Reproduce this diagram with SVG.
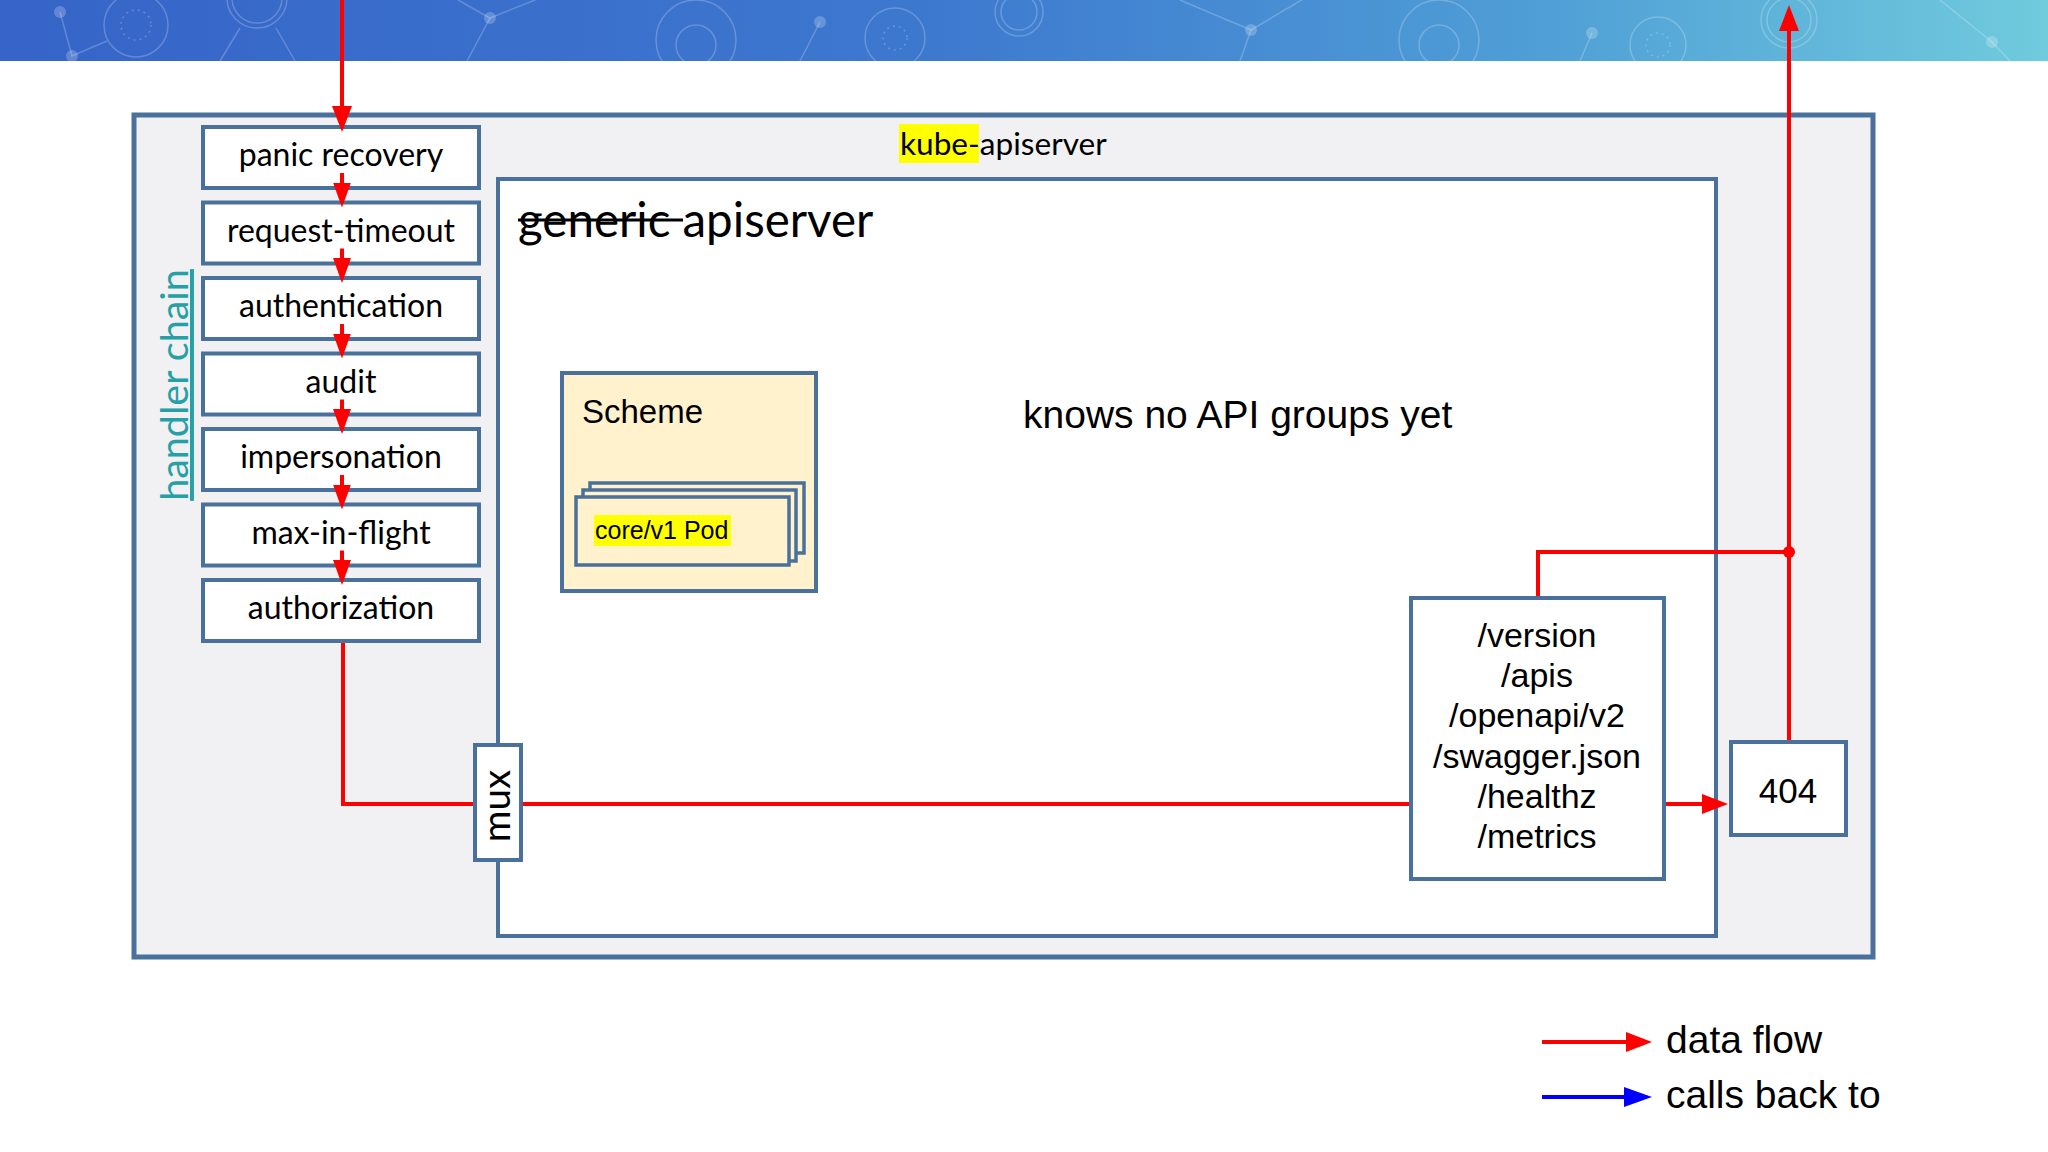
<svg xmlns="http://www.w3.org/2000/svg" width="2048" height="1152" viewBox="0 0 2048 1152">
  <defs>
    <linearGradient id="bannerGrad" x1="0" y1="0" x2="1" y2="0">
      <stop offset="0" stop-color="#3664c8"/>
      <stop offset="0.45" stop-color="#3d78cf"/>
      <stop offset="0.75" stop-color="#4f9ed6"/>
      <stop offset="1" stop-color="#70cbdd"/>
    </linearGradient>
    <marker id="redHead" viewBox="0 0 26 20" refX="21" refY="10" markerWidth="26" markerHeight="20" markerUnits="userSpaceOnUse" orient="auto">
      <path d="M0,0 L26,10 L0,20 z" fill="#ff0000"/>
    </marker>
    <marker id="chainHead" viewBox="0 0 25 18" refX="20" refY="9" markerWidth="25" markerHeight="18" markerUnits="userSpaceOnUse" orient="auto">
      <path d="M0,0 L25,9 L0,18 z" fill="#ff0000"/>
    </marker>
    <marker id="blueHead" viewBox="0 0 28 20" refX="23" refY="10" markerWidth="28" markerHeight="20" markerUnits="userSpaceOnUse" orient="auto">
      <path d="M0,0 L28,10 L0,20 z" fill="#0000ff"/>
    </marker>
  </defs>
  <style>
    .box { fill: #ffffff; stroke: #4a709c; stroke-width: 4; }
    .outer { fill: #f1f1f3; stroke: #4a709c; stroke-width: 5; }
    .scheme { fill: #fff2cc; stroke: #4a709c; stroke-width: 4; }
    .card { fill: #fff2cc; stroke: #4a709c; stroke-width: 3.5; }
    .flow { fill: none; stroke: #ff0000; stroke-width: 4; }
    .cal { font-family: Lato, "Liberation Sans", sans-serif; fill: #000000; }
    .ari { font-family: "Liberation Sans", Arial, sans-serif; fill: #000000; }
    .hl { font-size: 32px; text-anchor: middle; }
    .route { font-size: 34px; text-anchor: middle; }
    .deco { fill: none; stroke: #ffffff; stroke-opacity: 0.22; stroke-width: 1.5; }
    .decodot { fill: #ffffff; fill-opacity: 0.22; }
  </style>

  <rect width="2048" height="1152" fill="#ffffff"/>

  <!-- banner -->
  <g id="banner">
    <rect x="0" y="0" width="2048" height="61" fill="url(#bannerGrad)"/>
    <circle class="decodot" cx="60" cy="12" r="6"/>
    <circle class="decodot" cx="72" cy="56" r="6"/>
    <polyline class="deco" points="60,12 72,56 107,41"/>
    <circle class="deco" cx="136" cy="25" r="32"/>
    <circle class="deco" cx="136" cy="25" r="15" stroke-dasharray="2 4"/>
    <circle class="deco" cx="257" cy="-2" r="30"/>
    <circle class="deco" cx="257" cy="-2" r="25"/>
    <polyline class="deco" points="240,28 220,61"/>
    <polyline class="deco" points="276,28 295,61"/>
    <circle class="decodot" cx="490" cy="18" r="6"/>
    <polyline class="deco" points="458,0 490,18 467,61"/>
    <polyline class="deco" points="490,18 560,-10"/>
    <circle class="deco" cx="696" cy="40" r="40"/>
    <circle class="deco" cx="696" cy="45" r="20"/>
    <circle class="decodot" cx="820" cy="22" r="6"/>
    <polyline class="deco" points="820,22 800,61"/>
    <circle class="deco" cx="895" cy="38" r="30"/>
    <circle class="deco" cx="895" cy="38" r="12" stroke-dasharray="2 4"/>
    <circle class="deco" cx="1019" cy="12" r="24"/>
    <circle class="deco" cx="1019" cy="12" r="18"/>
    <circle class="decodot" cx="1251" cy="30" r="6"/>
    <polyline class="deco" points="1180,0 1251,30 1240,61"/>
    <polyline class="deco" points="1251,30 1310,-5"/>
    <circle class="deco" cx="1439" cy="40" r="40"/>
    <circle class="deco" cx="1439" cy="45" r="20"/>
    <circle class="decodot" cx="1592" cy="33" r="6"/>
    <polyline class="deco" points="1592,33 1580,61"/>
    <circle class="deco" cx="1658" cy="45" r="28"/>
    <circle class="deco" cx="1658" cy="45" r="12" stroke-dasharray="2 4"/>
    <circle class="deco" cx="1789" cy="20" r="28"/>
    <circle class="deco" cx="1789" cy="20" r="22"/>
    <circle class="decodot" cx="1992" cy="42" r="6"/>
    <polyline class="deco" points="1940,0 1992,42 2010,61"/>
  </g>

  <!-- containers -->
  <g id="kube-apiserver">
    <rect class="outer" x="134" y="115" width="1739" height="842"/>
    <rect x="899" y="124" width="80" height="39" fill="#ffff00"/>
    <text class="cal" x="900" y="155" font-size="31.6">kube-apiserver</text>
  </g>

  <g id="handler-chain-label">
    <text class="cal" transform="translate(188,385) rotate(-90)" font-size="39.5" text-anchor="middle" style="fill:#25a0a6" text-decoration="underline">handler chain</text>
  </g>

  <g id="generic-apiserver">
    <rect class="box" x="498" y="179" width="1218" height="757"/>
    <text class="cal" x="518" y="237" font-size="47.5">generic apiserver</text>
    <line x1="518" y1="220" x2="683" y2="220" stroke="#000000" stroke-width="3"/>
  </g>

  <g id="knows-note">
    <text class="ari" x="1023" y="428" font-size="39">knows no API groups yet</text>
  </g>

  <g id="scheme">
    <rect class="scheme" x="562" y="373" width="254" height="218"/>
    <text class="ari" x="582" y="423" font-size="33">Scheme</text>
    <rect class="card" x="590" y="483" width="214" height="70"/>
    <rect class="card" x="583" y="490" width="213" height="71"/>
    <rect class="card" x="576" y="497" width="213" height="68"/>
    <rect x="594" y="515" width="137" height="31" fill="#ffff00"/>
    <text class="ari" x="595" y="539" font-size="25">core/v1 Pod</text>
  </g>

  <!-- handler chain boxes -->
  <g id="panic-recovery">
    <rect class="box" x="203" y="127" width="276" height="61"/>
    <text class="cal hl" x="341" y="166">panic recovery</text>
  </g>
  <g id="request-timeout">
    <rect class="box" x="203" y="202.5" width="276" height="61"/>
    <text class="cal hl" x="341" y="241.5">request-timeout</text>
  </g>
  <g id="authentication">
    <rect class="box" x="203" y="278" width="276" height="61"/>
    <text class="cal hl" x="341" y="317">authentication</text>
  </g>
  <g id="audit">
    <rect class="box" x="203" y="353.5" width="276" height="61"/>
    <text class="cal hl" x="341" y="392.5">audit</text>
  </g>
  <g id="impersonation">
    <rect class="box" x="203" y="429" width="276" height="61"/>
    <text class="cal hl" x="341" y="468">impersonation</text>
  </g>
  <g id="max-in-flight">
    <rect class="box" x="203" y="504.5" width="276" height="61"/>
    <text class="cal hl" x="341" y="543.5">max-in-flight</text>
  </g>
  <g id="authorization">
    <rect class="box" x="203" y="580" width="276" height="61"/>
    <text class="cal hl" x="341" y="619">authorization</text>
  </g>

  <g id="mux">
    <rect class="box" x="475" y="745" width="46" height="115"/>
    <text class="cal" transform="translate(510,806) rotate(-90)" font-size="38.5" text-anchor="middle">mux</text>
  </g>

  <g id="routes">
    <rect class="box" x="1411" y="598" width="253" height="281"/>
    <text class="ari route" x="1537" y="647">/version</text>
    <text class="ari route" x="1537" y="687">/apis</text>
    <text class="ari route" x="1537" y="727">/openapi/v2</text>
    <text class="ari route" x="1537" y="768">/swagger.json</text>
    <text class="ari route" x="1537" y="808">/healthz</text>
    <text class="ari route" x="1537" y="848">/metrics</text>
  </g>

  <g id="notfound">
    <rect class="box" x="1731" y="742" width="115" height="93"/>
    <text class="ari" x="1788" y="803" font-size="35" text-anchor="middle">404</text>
  </g>

  <!-- connectors -->
  <g id="connectors">
    <line class="flow" x1="342" y1="0" x2="342" y2="127" marker-end="url(#redHead)"/>
    <line class="flow" x1="342" y1="173" x2="342" y2="202.5" marker-end="url(#chainHead)"/>
    <line class="flow" x1="342" y1="248.5" x2="342" y2="278" marker-end="url(#chainHead)"/>
    <line class="flow" x1="342" y1="324" x2="342" y2="353.5" marker-end="url(#chainHead)"/>
    <line class="flow" x1="342" y1="399.5" x2="342" y2="429" marker-end="url(#chainHead)"/>
    <line class="flow" x1="342" y1="475" x2="342" y2="504.5" marker-end="url(#chainHead)"/>
    <line class="flow" x1="342" y1="550.5" x2="342" y2="580" marker-end="url(#chainHead)"/>
    <path class="flow" d="M343,643 V804 H473"/>
    <line class="flow" x1="523" y1="804" x2="1409" y2="804"/>
    <line class="flow" x1="1666" y1="804" x2="1723" y2="804" marker-end="url(#redHead)"/>
    <path class="flow" d="M1538,596 V552 H1789"/>
    <line class="flow" x1="1789" y1="740" x2="1789" y2="10" marker-end="url(#redHead)"/>
    <circle cx="1789" cy="552" r="6" fill="#ff0000"/>
  </g>

  <!-- legend -->
  <g id="legend">
    <line x1="1542" y1="1042" x2="1647" y2="1042" stroke="#ff0000" stroke-width="4" marker-end="url(#redHead)"/>
    <text class="ari" x="1666" y="1053" font-size="39">data flow</text>
    <line x1="1542" y1="1097" x2="1647" y2="1097" stroke="#0000ff" stroke-width="4" marker-end="url(#blueHead)"/>
    <text class="ari" x="1666" y="1108" font-size="39">calls back to</text>
  </g>
</svg>
